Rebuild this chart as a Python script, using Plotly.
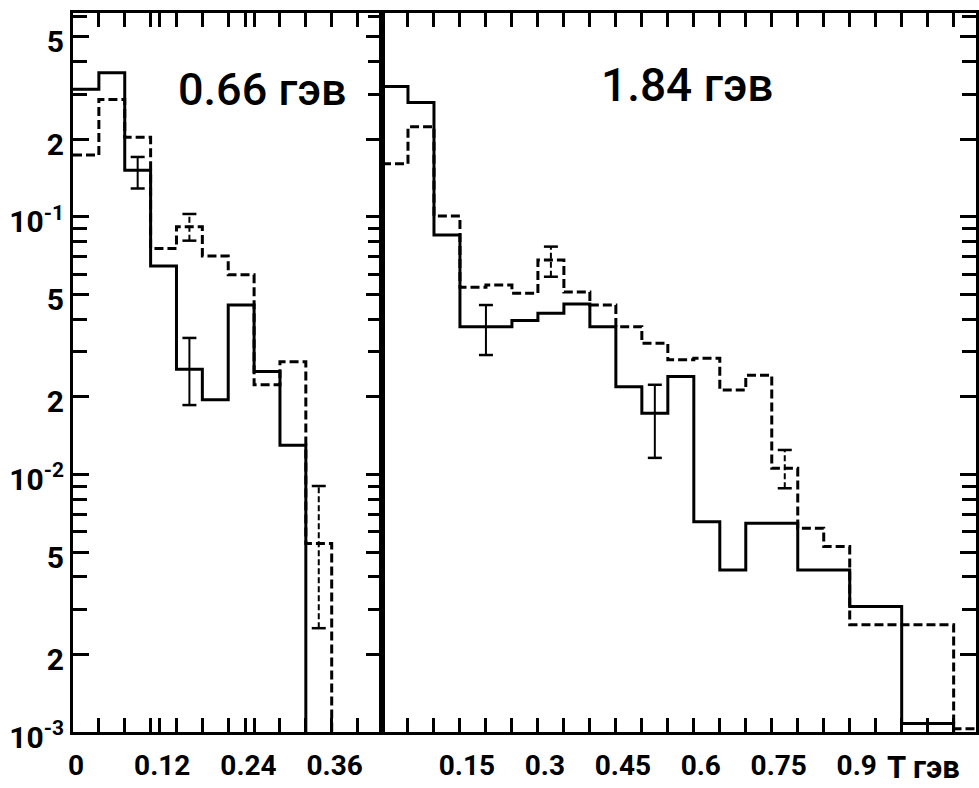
import plotly.graph_objects as go

# ---------------- data ----------------
# Left panel: 0.66 GeV, bin width in GeV
left_bin_width = 0.036
left_solid = [0.313, 0.363, 0.152, 0.0645, 0.0256, 0.0195, 0.0455, 0.0251, 0.0130]
left_dashed = [0.174, 0.286, 0.204, 0.0755, 0.0917, 0.0706, 0.0596, 0.0223, 0.0274, 0.0054]
left_err_solid_x = [0.090, 0.162]
left_err_solid_lo = [0.129, 0.0186]
left_err_solid_hi = [0.171, 0.0339]
left_err_dashed_x = [0.162, 0.342]
left_err_dashed_lo = [0.0809, 0.00253]
left_err_dashed_hi = [0.1027, 0.00902]
left_tick_labels = ["0", "0.12", "0.24", "0.36"]
left_tick_vals = [0.0, 0.12, 0.24, 0.36]

# Right panel: 1.84 GeV
right_bin_width = 0.05
right_solid = [0.321, 0.278, 0.0851, 0.0375, 0.0375, 0.0396, 0.0423, 0.0459, 0.0375,
               0.0219, 0.0173, 0.0240, 0.00656, 0.00426, 0.00646, 0.00646, 0.00426,
               0.00426, 0.00307, 0.00307, 0.00108, 0.00108]
right_dashed = [0.161, 0.224, 0.1009, 0.0533, 0.0544, 0.0506, 0.0681, 0.0511, 0.0455,
                0.0375, 0.0323, 0.0279, 0.0283, 0.0213, 0.0243, 0.01057, 0.00618,
                0.00525, 0.00261, 0.00261, 0.00261, 0.00261, 0.00103]
right_err_solid_x = [0.200, 0.525]
right_err_solid_lo = [0.0291, 0.0116]
right_err_solid_hi = [0.0455, 0.0223]
right_err_dashed_x = [0.325, 0.775]
right_err_dashed_lo = [0.0586, 0.00884]
right_err_dashed_hi = [0.0767, 0.01245]
right_tick_labels = ["0.15", "0.3", "0.45", "0.6", "0.75", "0.9"]
right_tick_vals = [0.15, 0.30, 0.45, 0.60, 0.75, 0.90]

y_tick_vals = [1e-3, 2e-3, 5e-3, 1e-2, 2e-2, 5e-2, 1e-1, 2e-1, 5e-1]
y_tick_text = ["10<sup>-3</sup>", "2", "5", "10<sup>-2</sup>", "2", "5",
               "10<sup>-1</sup>", "2", "5"]

title_left = "0.66 гэв"
title_right = "1.84 гэв"
x_title = "Т гэв"

# ---------------- styling ----------------
FONT = "Roboto, Liberation Sans, sans-serif"
FLOOR = 1e-4          # below the axis: the step drops to the axis and is clipped
LW = 3
DASH = "9px,4px"

minor_vals = [m * 10 ** e for e in (-3, -2, -1) for m in range(1, 10)]
minor_vals = [v for v in minor_vals if v not in y_tick_vals and v < 0.62]


def step_xy(values, width):
    xs = [i * width for i in range(len(values) + 1)]
    ys = list(values) + [FLOOR]
    return xs, ys


def err_xy(xs, lo, hi):
    X, Y = [], []
    for x, a, b in zip(xs, lo, hi):
        X += [x, x, None]
        Y += [a, b, None]
    return X, Y


fig = go.Figure()

panels = [
    ("x", "y", left_solid, left_dashed, left_bin_width,
     (left_err_solid_x, left_err_solid_lo, left_err_solid_hi),
     (left_err_dashed_x, left_err_dashed_lo, left_err_dashed_hi)),
    ("x2", "y2", right_solid, right_dashed, right_bin_width,
     (right_err_solid_x, right_err_solid_lo, right_err_solid_hi),
     (right_err_dashed_x, right_err_dashed_lo, right_err_dashed_hi)),
]

for xa, ya, solid, dashed, w, esol, edash in panels:
    xs, ys = step_xy(dashed, w)
    fig.add_trace(go.Scatter(x=xs, y=ys, mode="lines", line_shape="hv",
                             line=dict(color="black", width=LW, dash=DASH),
                             xaxis=xa, yaxis=ya, hoverinfo="skip"))
    xs, ys = step_xy(solid, w)
    fig.add_trace(go.Scatter(x=xs, y=ys, mode="lines", line_shape="hv",
                             line=dict(color="black", width=LW),
                             xaxis=xa, yaxis=ya, hoverinfo="skip"))
    for (ex, lo, hi), dash in ((esol, "solid"), (edash, "6px,3px")):
        X, Y = err_xy(ex, lo, hi)
        fig.add_trace(go.Scatter(x=X, y=Y, mode="lines",
                                 line=dict(color="black", width=2, dash=dash),
                                 xaxis=xa, yaxis=ya, hoverinfo="skip"))
        fig.add_trace(go.Scatter(x=list(ex) * 2, y=list(lo) + list(hi), mode="markers",
                                 marker=dict(symbol="line-ew", size=10,
                                             line=dict(color="black", width=2.5)),
                                 xaxis=xa, yaxis=ya, hoverinfo="skip"))

split = 309 / 903
axis_common = dict(showline=True, linecolor="black", linewidth=LW, showgrid=False,
                   zeroline=False, ticks="inside", tickcolor="black", automargin=False)

left_ticks = [k * left_bin_width for k in range(0, 12)]
right_ticks = [k * right_bin_width for k in range(1, 23)]


def tick_text(ticks, vals, labels):
    out = []
    for t in ticks:
        lab = ""
        for v, l in zip(vals, labels):
            if abs(v - t) < 1e-3:
                lab = l
        out.append(lab)
    return out


lt = list(left_ticks)
for v in left_tick_vals:
    if all(abs(v - t) > 1e-3 for t in lt):
        lt.append(v)
lt = sorted(lt)

XTICKFONT = dict(family=FONT, size=28, color="black", weight="bold")

fig.update_layout(
    width=979, height=788,
    margin=dict(l=73, r=3, t=13, b=56),
    plot_bgcolor="white", paper_bgcolor="white", showlegend=False,
    xaxis=dict(domain=[0, split], range=[0, 0.43], anchor="y",
               tickmode="array", tickvals=lt,
               ticktext=tick_text(lt, left_tick_vals, left_tick_labels),
               ticklen=14, tickwidth=2.5, mirror="ticks", ticklabelshift=3,
               ticklabelstandoff=6,
               tickfont=XTICKFONT, **axis_common),
    xaxis2=dict(domain=[split, 1], range=[0, 1.143], anchor="y2",
                tickmode="array", tickvals=right_ticks,
                ticktext=tick_text(right_ticks, right_tick_vals, right_tick_labels),
                ticklen=14, tickwidth=2.5, mirror="ticks", ticklabelshift=7,
                ticklabelstandoff=6,
                tickfont=XTICKFONT, **axis_common),
    yaxis=dict(type="log", range=[-3, -0.208], anchor="x",
               tickmode="array", tickvals=y_tick_vals, ticktext=y_tick_text,
               ticklen=16, tickwidth=2.5, mirror="ticks", ticklabelstandoff=0,
               ticklabelshift=5,
               minor=dict(tickmode="array", tickvals=minor_vals, ticks="inside",
                          ticklen=14, tickwidth=2.5, tickcolor="black"),
               tickfont=dict(family=FONT, size=30, color="black", weight="bold"),
               **axis_common),
    yaxis2=dict(type="log", range=[-3, -0.208], anchor="x2", side="right",
                tickmode="array", tickvals=y_tick_vals, showticklabels=False,
                ticklen=16, tickwidth=2.5, mirror=True,
                minor=dict(tickmode="array", tickvals=minor_vals, ticks="inside",
                           ticklen=14, tickwidth=2.5, tickcolor="black"),
                **axis_common),
)

fig.add_annotation(text=title_left, xref="paper", yref="paper", x=0.2104, y=0.893,
                   showarrow=False, xanchor="center", yanchor="middle",
                   font=dict(family=FONT, size=45, color="black", weight=500))
fig.add_annotation(text=title_right, xref="paper", yref="paper", x=0.680, y=0.900,
                   showarrow=False, xanchor="center", yanchor="middle",
                   font=dict(family=FONT, size=46, color="black", weight=500))
fig.add_annotation(text=x_title, xref="paper", yref="paper", x=0.942, y=-0.0487,
                   showarrow=False, xanchor="center", yanchor="middle",
                   font=dict(family=FONT, size=31, color="black", weight="bold"))

fig.write_html("out.html")
